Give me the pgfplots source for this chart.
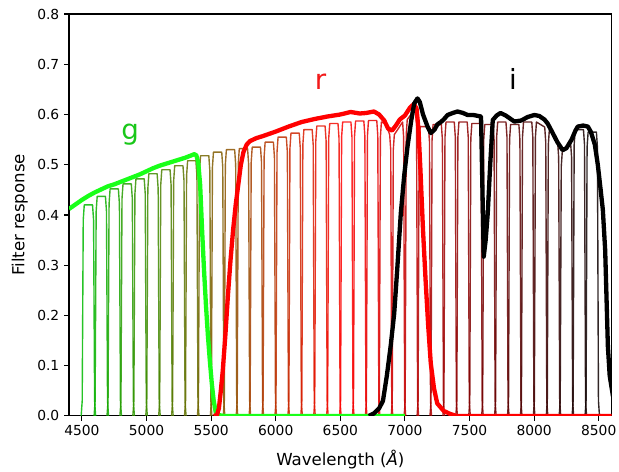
\documentclass[border=0pt]{standalone}
\usepackage{pgfplots}
\pgfplotsset{compat=1.18}
\usepackage{fontspec}
\setmainfont{DejaVu Sans}
\definecolor{ng}{rgb}{0,0.72,0}
\definecolor{gband}{rgb}{0.1,1,0.1}
\definecolor{glab}{rgb}{0.1,0.78,0.1}
\definecolor{rlab}{rgb}{0.95,0.1,0.1}
\begin{document}
\begin{tikzpicture}
\begin{axis}[
  scale only axis, width=390.7bp, height=289.4bp,
  xmin=4400, xmax=8600, ymin=0, ymax=0.8,
  xtick={4500,5000,5500,6000,6500,7000,7500,8000,8500},
  ytick={0,0.1,0.2,0.3,0.4,0.5,0.6,0.7,0.8},
  yticklabel style={/pgf/number format/.cd, fixed, fixed zerofill, precision=1},
  xticklabel style={/pgf/number format/1000 sep={}},
  /pgf/number format/assume math mode=true,
  tick align=outside, xtick pos=left, ytick pos=left,
  major tick length=3.5bp,
  tick style={black, line width=0.8bp},
  axis line style={line width=0.8bp},
  ticklabel style={font=\fontsize{10}{12}\selectfont},
  label style={font=\fontsize{12}{14}\selectfont},
  xlabel={Wavelength (\textit{Å})},
  xlabel style={yshift=-3bp},
  ylabel={Filter response},
  nb/.style={line width=1bp, draw opacity=0.85, no markers, line join=round},
  bb/.style={line width=3.1bp, no markers, line join=round},
]
% narrow bands
\addplot[nb, draw=red!0!ng] coordinates {(4494,0)(4502,0.03)(4510,0.390)(4518,0.420)(4582,0.420)(4590,0.390)(4598,0.03)(4606,0)};
\addplot[nb, draw=red!5!ng] coordinates {(4594,0)(4602,0.03)(4610,0.407)(4618,0.437)(4682,0.437)(4690,0.407)(4698,0.03)(4706,0)};
\addplot[nb, draw=red!10!ng] coordinates {(4694,0)(4702,0.03)(4710,0.422)(4718,0.452)(4782,0.452)(4790,0.422)(4798,0.03)(4806,0)};
\addplot[nb, draw=red!15!ng] coordinates {(4794,0)(4802,0.03)(4810,0.432)(4818,0.462)(4882,0.462)(4890,0.432)(4898,0.03)(4906,0)};
\addplot[nb, draw=red!20!ng] coordinates {(4894,0)(4902,0.03)(4910,0.442)(4918,0.472)(4982,0.472)(4990,0.442)(4998,0.03)(5006,0)};
\addplot[nb, draw=red!25!ng] coordinates {(4994,0)(5002,0.03)(5010,0.452)(5018,0.482)(5082,0.482)(5090,0.452)(5098,0.03)(5106,0)};
\addplot[nb, draw=red!30!ng] coordinates {(5094,0)(5102,0.03)(5110,0.460)(5118,0.490)(5182,0.490)(5190,0.460)(5198,0.03)(5206,0)};
\addplot[nb, draw=red!35!ng] coordinates {(5194,0)(5202,0.03)(5210,0.468)(5218,0.498)(5282,0.498)(5290,0.468)(5298,0.03)(5306,0)};
\addplot[nb, draw=red!40!ng] coordinates {(5294,0)(5302,0.03)(5310,0.478)(5318,0.508)(5382,0.508)(5390,0.478)(5398,0.03)(5406,0)};
\addplot[nb, draw=red!45!ng] coordinates {(5394,0)(5402,0.03)(5410,0.488)(5418,0.518)(5482,0.518)(5490,0.488)(5498,0.03)(5506,0)};
\addplot[nb, draw=red!50!ng] coordinates {(5494,0)(5502,0.03)(5510,0.495)(5518,0.525)(5582,0.525)(5590,0.495)(5598,0.03)(5606,0)};
\addplot[nb, draw=red!55!ng] coordinates {(5594,0)(5602,0.03)(5610,0.500)(5618,0.530)(5682,0.530)(5690,0.500)(5698,0.03)(5706,0)};
\addplot[nb, draw=red!60!ng] coordinates {(5694,0)(5702,0.03)(5710,0.502)(5718,0.532)(5782,0.532)(5790,0.502)(5798,0.03)(5806,0)};
\addplot[nb, draw=red!65!ng] coordinates {(5794,0)(5802,0.03)(5810,0.505)(5818,0.535)(5882,0.535)(5890,0.505)(5898,0.03)(5906,0)};
\addplot[nb, draw=red!70!ng] coordinates {(5894,0)(5902,0.03)(5910,0.515)(5918,0.545)(5982,0.545)(5990,0.515)(5998,0.03)(6006,0)};
\addplot[nb, draw=red!75!ng] coordinates {(5994,0)(6002,0.03)(6010,0.525)(6018,0.555)(6082,0.555)(6090,0.525)(6098,0.03)(6106,0)};
\addplot[nb, draw=red!80!ng] coordinates {(6094,0)(6102,0.03)(6110,0.533)(6118,0.563)(6182,0.563)(6190,0.533)(6198,0.03)(6206,0)};
\addplot[nb, draw=red!85!ng] coordinates {(6194,0)(6202,0.03)(6210,0.540)(6218,0.570)(6282,0.570)(6290,0.540)(6298,0.03)(6306,0)};
\addplot[nb, draw=red!90!ng] coordinates {(6294,0)(6302,0.03)(6310,0.547)(6318,0.577)(6382,0.577)(6390,0.547)(6398,0.03)(6406,0)};
\addplot[nb, draw=red!95!ng] coordinates {(6394,0)(6402,0.03)(6410,0.552)(6418,0.582)(6482,0.582)(6490,0.552)(6498,0.03)(6506,0)};
\addplot[nb, draw=red] coordinates {(6494,0)(6502,0.03)(6510,0.555)(6518,0.585)(6582,0.585)(6590,0.555)(6598,0.03)(6606,0)};
\addplot[nb, draw=red!95!black] coordinates {(6594,0)(6602,0.03)(6610,0.557)(6618,0.587)(6682,0.587)(6690,0.557)(6698,0.03)(6706,0)};
\addplot[nb, draw=red!90!black] coordinates {(6694,0)(6702,0.03)(6710,0.558)(6718,0.588)(6782,0.588)(6790,0.558)(6798,0.03)(6806,0)};
\addplot[nb, draw=red!85!black] coordinates {(6794,0)(6802,0.03)(6810,0.555)(6818,0.585)(6850,0.582)(6882,0.560)(6890,0.530)(6898,0.03)(6906,0)};
\addplot[nb, draw=red!80!black] coordinates {(6894,0)(6902,0.03)(6910,0.530)(6918,0.560)(6982,0.585)(6990,0.555)(6998,0.03)(7006,0)};
\addplot[nb, draw=red!75!black] coordinates {(6994,0)(7002,0.03)(7010,0.560)(7018,0.590)(7082,0.612)(7090,0.582)(7098,0.03)(7106,0)};
\addplot[nb, draw=red!70!black] coordinates {(7094,0)(7102,0.03)(7110,0.546)(7118,0.576)(7182,0.576)(7190,0.546)(7198,0.03)(7206,0)};
\addplot[nb, draw=red!65!black] coordinates {(7194,0)(7202,0.03)(7210,0.550)(7218,0.580)(7282,0.580)(7290,0.550)(7298,0.03)(7306,0)};
\addplot[nb, draw=red!60!black] coordinates {(7294,0)(7302,0.03)(7310,0.555)(7318,0.585)(7382,0.585)(7390,0.555)(7398,0.03)(7406,0)};
\addplot[nb, draw=red!55!black] coordinates {(7394,0)(7402,0.03)(7410,0.555)(7418,0.585)(7482,0.585)(7490,0.555)(7498,0.03)(7506,0)};
\addplot[nb, draw=red!50!black] coordinates {(7494,0)(7502,0.03)(7510,0.552)(7518,0.582)(7582,0.582)(7590,0.552)(7598,0.03)(7606,0)};
\addplot[nb, draw=red!45!black] coordinates {(7594,0)(7602,0.03)(7610,0.550)(7618,0.580)(7682,0.580)(7690,0.550)(7698,0.03)(7706,0)};
\addplot[nb, draw=red!40!black] coordinates {(7694,0)(7702,0.03)(7710,0.555)(7718,0.585)(7782,0.585)(7790,0.555)(7798,0.03)(7806,0)};
\addplot[nb, draw=red!35!black] coordinates {(7794,0)(7802,0.03)(7810,0.550)(7818,0.580)(7882,0.580)(7890,0.550)(7898,0.03)(7906,0)};
\addplot[nb, draw=red!30!black] coordinates {(7894,0)(7902,0.03)(7910,0.555)(7918,0.585)(7982,0.585)(7990,0.555)(7998,0.03)(8006,0)};
\addplot[nb, draw=red!25!black] coordinates {(7994,0)(8002,0.03)(8010,0.555)(8018,0.585)(8082,0.575)(8090,0.545)(8098,0.03)(8106,0)};
\addplot[nb, draw=red!20!black] coordinates {(8094,0)(8102,0.03)(8110,0.540)(8118,0.570)(8182,0.545)(8190,0.515)(8198,0.03)(8206,0)};
\addplot[nb, draw=red!15!black] coordinates {(8194,0)(8202,0.03)(8210,0.496)(8218,0.526)(8282,0.545)(8290,0.515)(8298,0.03)(8306,0)};
\addplot[nb, draw=red!10!black] coordinates {(8294,0)(8302,0.03)(8310,0.540)(8318,0.570)(8382,0.570)(8390,0.540)(8398,0.03)(8406,0)};
\addplot[nb, draw=red!5!black] coordinates {(8394,0)(8402,0.03)(8410,0.535)(8418,0.565)(8482,0.565)(8490,0.535)(8498,0.03)(8506,0)};
% broad g
\addplot[bb, draw=gband] coordinates {(4400,0.412)(4450,0.421)(4500,0.430)(4550,0.438)(4600,0.445)(4650,0.451)(4700,0.457)(4750,0.461)(4800,0.466)(4850,0.471)(4900,0.476)(4950,0.481)(5000,0.487)(5050,0.493)(5100,0.498)(5150,0.502)(5200,0.506)(5250,0.510)(5300,0.514)(5340,0.518)(5370,0.521)(5385,0.519)(5400,0.505)(5415,0.46)(5430,0.37)(5445,0.29)(5460,0.22)(5475,0.16)(5490,0.11)(5505,0.065)(5520,0.03)(5535,0.008)(5550,0.002)(5600,0)(7000,0)};
% broad r
\addplot[bb, draw=red] coordinates {(5520,0)(5545,0.002)(5560,0.015)(5575,0.05)(5590,0.09)(5610,0.16)(5630,0.24)(5650,0.31)(5670,0.37)(5690,0.42)(5710,0.46)(5730,0.50)(5750,0.525)(5775,0.54)(5800,0.547)(5850,0.553)(5900,0.557)(6000,0.566)(6100,0.576)(6200,0.585)(6300,0.591)(6400,0.596)(6500,0.600)(6580,0.605)(6650,0.602)(6700,0.603)(6760,0.606)(6800,0.600)(6840,0.588)(6870,0.572)(6900,0.568)(6930,0.578)(6960,0.590)(7000,0.598)(7040,0.614)(7070,0.621)(7090,0.612)(7105,0.57)(7120,0.49)(7140,0.37)(7160,0.27)(7180,0.18)(7200,0.105)(7225,0.055)(7250,0.025)(7300,0.01)(7350,0.004)(7400,0)(8600,0)};
% broad i
\addplot[bb, draw=black] coordinates {(6720,0)(6760,0.005)(6800,0.015)(6830,0.03)(6860,0.08)(6890,0.14)(6917,0.204)(6940,0.29)(6968,0.403)(6995,0.48)(7020,0.536)(7050,0.59)(7072,0.622)(7097,0.632)(7115,0.625)(7140,0.60)(7175,0.576)(7200,0.563)(7230,0.57)(7250,0.58)(7278,0.585)(7300,0.59)(7330,0.599)(7370,0.603)(7407,0.606)(7450,0.603)(7485,0.599)(7530,0.599)(7589,0.596)(7600,0.45)(7610,0.317)(7625,0.35)(7641,0.403)(7660,0.50)(7680,0.589)(7710,0.598)(7740,0.603)(7780,0.598)(7847,0.586)(7900,0.588)(7950,0.595)(8002,0.599)(8040,0.597)(8080,0.59)(8105,0.582)(8140,0.565)(8180,0.545)(8221,0.529)(8250,0.533)(8290,0.55)(8320,0.568)(8338,0.576)(8380,0.578)(8416,0.576)(8440,0.565)(8470,0.54)(8493,0.50)(8515,0.45)(8532,0.41)(8550,0.33)(8571,0.138)(8585,0.08)(8610,0.04)(8640,0.01)};
\node[text=glab, font=\fontsize{20}{24}\selectfont, anchor=base] at (axis cs:4873,0.551) {g};
\node[text=rlab, font=\fontsize{20}{24}\selectfont, anchor=base] at (axis cs:6347,0.649) {r};
\node[text=black, font=\fontsize{20}{24}\selectfont, anchor=base] at (axis cs:7837,0.649) {i};
\end{axis}
\pgfresetboundingbox
\path[use as bounding box] ([xshift=-49.7bp,yshift=-40.3bp]current axis.south west) rectangle ([xshift=5.3bp,yshift=10.1bp]current axis.north east);
\end{tikzpicture}
\end{document}
